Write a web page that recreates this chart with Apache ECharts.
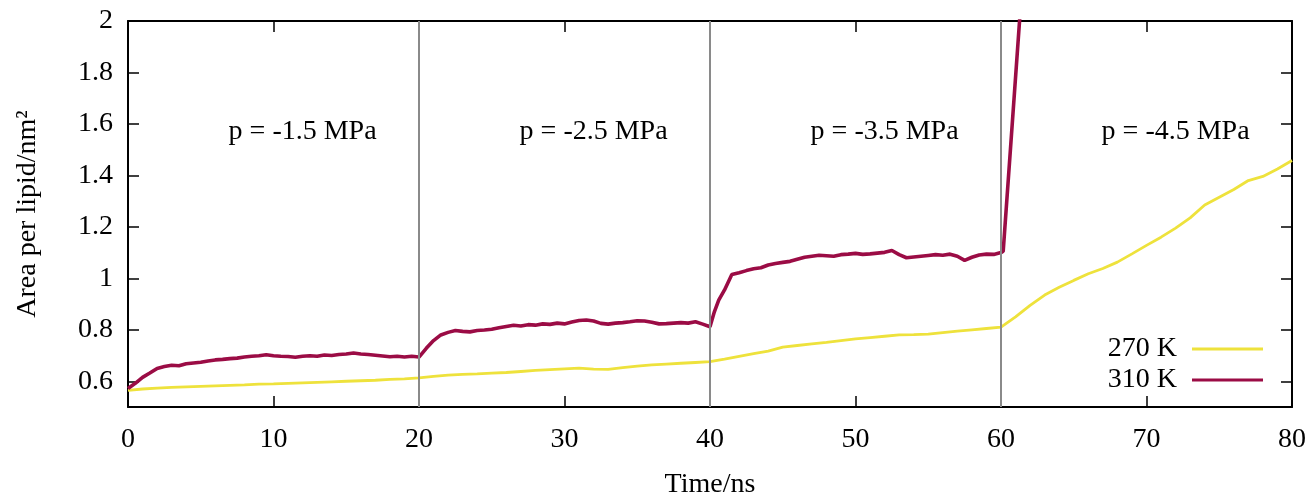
<!DOCTYPE html>
<html>
<head>
<meta charset="utf-8">
<script src="https://cdn.jsdelivr.net/npm/echarts@6/dist/echarts.min.js"></script>
<style>html,body{margin:0;padding:0;background:#fff}#c{width:1313px;height:496px}</style>
</head>
<body>
<div id="c"></div>
<script>
// ---- data ----
const time310 = [0,0.5,1,1.5,2,2.5,3,3.5,4,4.5,5,5.5,6,6.5,7,7.5,8,8.5,9,9.5,10,10.5,11,11.5,12,12.5,13,13.5,14,14.5,15,15.5,16,16.5,17,17.5,18,18.5,19,19.5,20,
  20.5,21,21.5,22,22.5,23,23.5,24,24.5,25,25.5,26,26.5,27,27.5,28,28.5,29,29.5,30,30.5,31,31.5,32,32.5,33,33.5,34,34.5,35,35.5,36,36.5,37,37.5,38,38.5,39,39.5,40,
  40.3,40.6,41,41.5,42,42.5,43,43.5,44,44.5,45,45.5,46,46.5,47,47.5,48,48.5,49,49.5,50,50.5,51,51.5,52,52.5,53,53.5,54,54.5,55,55.5,56,56.5,57,57.5,58,58.5,59,59.5,60,60.15,61.3];
const area310 = [0.572,0.592,0.615,0.632,0.650,0.657,0.662,0.660,0.668,0.671,0.674,0.679,0.683,0.685,0.688,0.690,0.694,0.697,0.699,0.703,0.699,0.697,0.696,0.693,0.697,0.699,0.697,0.702,0.700,0.704,0.706,0.710,0.706,0.704,0.701,0.698,0.695,0.697,0.694,0.697,0.694,
  0.728,0.758,0.780,0.790,0.797,0.794,0.792,0.797,0.799,0.802,0.808,0.813,0.818,0.815,0.820,0.818,0.823,0.821,0.826,0.823,0.830,0.836,0.838,0.834,0.825,0.822,0.826,0.828,0.831,0.835,0.834,0.829,0.823,0.824,0.826,0.828,0.826,0.831,0.822,0.812,
  0.870,0.915,0.955,1.015,1.022,1.030,1.037,1.041,1.052,1.058,1.062,1.066,1.074,1.082,1.086,1.090,1.088,1.086,1.092,1.094,1.097,1.093,1.095,1.098,1.101,1.108,1.092,1.080,1.083,1.086,1.089,1.092,1.090,1.094,1.086,1.070,1.082,1.091,1.094,1.093,1.100,1.105,2.02];
const time270 = [0,1,2,3,4,5,6,7,8,9,10,11,12,13,14,15,16,17,18,19,20,21,22,23,24,25,26,27,28,29,30,31,32,33,34,35,36,37,38,39,40,
  41,42,43,44,45,46,47,48,49,50,51,52,53,54,55,56,57,58,59,60,61,62,63,64,65,66,67,68,69,70,71,72,73,74,75,76,77,78,79,80];
const area270 = [0.565,0.570,0.573,0.576,0.578,0.580,0.582,0.584,0.586,0.589,0.590,0.592,0.594,0.596,0.598,0.600,0.602,0.604,0.607,0.609,0.613,
  0.619,0.624,0.627,0.629,0.632,0.634,0.638,0.642,0.645,0.648,0.651,0.647,0.646,0.653,0.659,0.664,0.667,0.670,0.673,0.676,
  0.686,0.697,0.707,0.717,0.733,0.739,0.745,0.751,0.758,0.765,0.770,0.775,0.780,0.781,0.783,0.789,0.795,0.800,0.805,0.810,
  0.850,0.895,0.935,0.965,0.992,1.018,1.038,1.063,1.095,1.128,1.160,1.195,1.235,1.285,1.315,1.345,1.380,1.396,1.425,1.458];
const seriesNames = ['270 K', '310 K'];
const xTicks = [0,10,20,30,40,50,60,70,80];
const yTicks = [0.6,0.8,1.0,1.2,1.4,1.6,1.8,2.0];
const pressureBounds = [20, 40, 60];
const regionLabels = ['p = -1.5 MPa','p = -2.5 MPa','p = -3.5 MPa','p = -4.5 MPa'];
const regionX = [12, 32, 52, 72];
const regionY = 1.57;

// ---- chart ----
const FONT = 'Liberation Serif';
const YELLOW = '#eee23c', RED = '#9b0c45';
const zip = (a, b) => a.map((v, i) => [v, b[i]]);
const chart = echarts.init(document.getElementById('c'), null, {renderer: 'canvas'});
const xBase = {
  type: 'value', min: 0, max: 80, interval: 10,
  axisLine: {show: true, onZero: false, lineStyle: {color: '#000', width: 2}},
  axisTick: {show: true, inside: true, length: 11, lineStyle: {color: '#000', width: 1.5}},
  splitLine: {show: false}
};
const yBase = {
  type: 'value', min: 0.5, max: 2,
  axisLine: {show: true, onZero: false, lineStyle: {color: '#000', width: 2}},
  axisTick: {show: true, inside: true, length: 11, customValues: yTicks, lineStyle: {color: '#000', width: 1.5}},
  splitLine: {show: false}
};
chart.setOption({
  animation: false,
  backgroundColor: '#fff',
  textStyle: {fontFamily: FONT},
  grid: {left: 128, right: 21, top: 21, bottom: 89, containLabel: false, outerBoundsMode: 'none'},
  legend: {
    data: [
      {name: seriesNames[0], itemStyle: {color: YELLOW}},
      {name: seriesNames[1], itemStyle: {color: RED}}
    ],
    orient: 'vertical', right: 50, top: 335, align: 'right', padding: 0,
    icon: 'rect', itemWidth: 71, itemHeight: 3, itemGap: 3,
    textStyle: {fontFamily: FONT, fontSize: 28, lineHeight: 28, color: '#000', padding: [0, 10, 0, 0]},
    selectedMode: false
  },
  xAxis: [
    Object.assign({}, xBase, {
      position: 'bottom', name: 'Time/ns', nameLocation: 'middle', nameGap: 64,
      nameTextStyle: {fontFamily: FONT, fontSize: 28, color: '#000'},
      axisLabel: {show: true, margin: 19, fontFamily: FONT, fontSize: 28, color: '#000', customValues: xTicks}
    }),
    Object.assign({}, xBase, {position: 'top', axisLabel: {show: false}})
  ],
  yAxis: [
    Object.assign({}, yBase, {
      position: 'left', name: 'Area per lipid/nm²', nameLocation: 'middle', nameGap: 86,
      nameTextStyle: {fontFamily: FONT, fontSize: 28, color: '#000'},
      axisLabel: {show: true, margin: 15, fontFamily: FONT, fontSize: 28, color: '#000', customValues: yTicks,
        formatter: v => String(Math.round(v * 10) / 10)}
    }),
    Object.assign({}, yBase, {position: 'right', axisLabel: {show: false}})
  ],
  series: [
    {
      name: 'bounds', type: 'line', data: [], silent: true, z: 1,
      markLine: {
        silent: true, symbol: 'none', label: {show: false},
        lineStyle: {color: '#8a8a8a', width: 2, type: 'solid'},
        data: pressureBounds.map(v => ({xAxis: v}))
      }
    },
    {
      name: seriesNames[0], type: 'line', data: zip(time270, area270), symbol: 'none', showSymbol: false,
      lineStyle: {color: YELLOW, width: 2.8}, itemStyle: {color: YELLOW}, z: 3, clip: true
    },
    {
      name: seriesNames[1], type: 'line', data: zip(time310, area310), symbol: 'none', showSymbol: false,
      lineStyle: {color: RED, width: 3.6}, itemStyle: {color: RED}, z: 4, clip: true
    },
    {
      name: 'regions', type: 'scatter', symbolSize: 0, silent: true, z: 5,
      itemStyle: {opacity: 1},
      data: regionX.map((x, i) => ({value: [x, regionY], name: regionLabels[i]})),
      label: {show: true, position: 'inside', formatter: p => p.name, fontFamily: FONT, fontSize: 28,
        color: '#000', opacity: 1, textBorderWidth: 0}
    }
  ]
});
</script>
</body>
</html>
